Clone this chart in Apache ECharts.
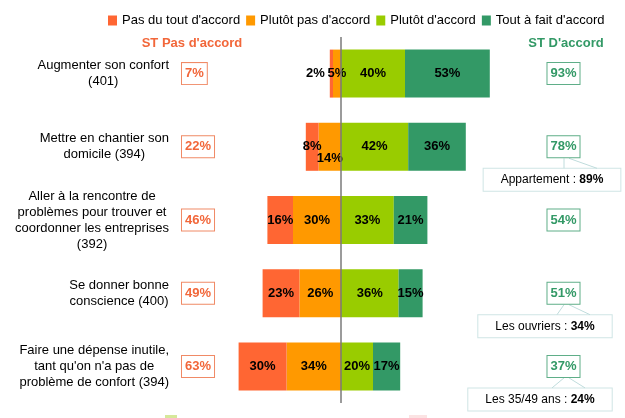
<!DOCTYPE html>
<html>
<head>
<meta charset="utf-8">
<script src="https://cdn.jsdelivr.net/npm/echarts@6/dist/echarts.min.js"></script>
<style>
html,body{margin:0;padding:0;background:#fff;}
#chart{width:625px;height:418px;}
</style>
</head>
<body>
<div id="chart"></div>
<script>
// ---- data ----
const categories = [
  "Augmenter son confort\n(401)",
  "Mettre en chantier son\ndomicile (394)",
  "Aller à la rencontre de\nproblèmes pour trouver et\ncoordonner les entreprises\n(392)",
  "Se donner bonne\nconscience (400)",
  "Faire une dépense inutile,\ntant qu'on n'a pas de\nproblème de confort (394)"
];
const legendNames = ["Pas du tout d'accord", "Plutôt pas d'accord", "Plutôt d'accord", "Tout à fait d'accord"];
const pasDuTout = [2, 8, 16, 23, 30];
const plutotPas = [5, 14, 30, 26, 34];
const plutotAccord = [40, 42, 33, 36, 20];
const toutAFait = [53, 36, 21, 15, 17];
const stPasAccord = [7, 22, 46, 49, 63];
const stAccord = [93, 78, 54, 51, 37];
const calloutLabels = ["", "Appartement : ", "", "Les ouvriers : ", "Les 35/49 ans : "];
const calloutValues = ["", "89%", "", "34%", "24%"];

// ---- style ----
const FONT = "'Liberation Sans', Arial, sans-serif";
const C_RED = '#FF6633', C_ORANGE = '#FF9900', C_LIME = '#99CC00', C_GREEN = '#339966';
const C_HEAD_RED = '#F2673A', C_BOX_RED = '#F08A66';
const C_BUBBLE = '#CFE5E5';

const chart = echarts.init(document.getElementById('chart'), null, {renderer: 'canvas'});

function makeSeries(name, values, sign, color, tweaks) {
  return {
    name: name,
    type: 'bar',
    stack: 'total',
    barWidth: 48,
    itemStyle: {color: color},
    label: {
      show: true,
      position: 'inside',
      formatter: p => Math.abs(p.value) + '%',
      color: '#000',
      fontWeight: 'bold',
      fontSize: 13,
      fontFamily: FONT,
      textBorderWidth: 0
    },
    data: values.map((v, i) => {
      const item = {value: sign * v};
      if (tweaks && tweaks[i]) item.label = {offset: tweaks[i]};
      return item;
    })
  };
}

const sPlutotPas = makeSeries(legendNames[1], plutotPas, -1, C_ORANGE, {1: [0, 12]});
sPlutotPas.markLine = {
  silent: true,
  symbol: ['none', 'none'],
  label: {show: false},
  lineStyle: {color: '#7a7a7a', width: 1.5, type: 'solid'},
  data: [{xAxis: 0}]
};

const option = {
  animation: false,
  textStyle: {fontFamily: FONT},
  legend: {
    data: legendNames,
    left: 103,
    top: 9,
    icon: 'rect',
    itemWidth: 9,
    itemHeight: 10,
    itemGap: 6,
    textStyle: {fontSize: 13, color: '#000', fontFamily: FONT}
  },
  grid: {left: 181, right: 124, top: 37, bottom: 15},
  xAxis: {
    type: 'value', min: -100, max: 100,
    axisLine: {show: false}, axisTick: {show: false},
    axisLabel: {show: false}, splitLine: {show: false}
  },
  yAxis: {
    type: 'category',
    inverse: true,
    data: categories,
    axisLine: {show: false},
    axisTick: {show: false},
    axisLabel: {
      interval: 0,
      margin: 12,
      align: 'right',
      formatter: v => v.split('\n').map(l => '{c|' + l + '}').join('\n'),
      rich: {c: {align: 'center', fontSize: 13, lineHeight: 16, color: '#000', fontFamily: FONT}}
    }
  },
  series: [
    sPlutotPas,
    makeSeries(legendNames[0], pasDuTout, -1, C_RED, {0: [-16, 0]}),
    makeSeries(legendNames[2], plutotAccord, 1, C_LIME),
    makeSeries(legendNames[3], toutAFait, 1, C_GREEN)
  ]
};
chart.setOption(option);

// ---- annotations positioned from the category axis ----
const graphics = [];
graphics.push({
  type: 'text', style: {text: "ST Pas d'accord", x: 192, y: 43, align: 'center', verticalAlign: 'middle',
    font: 'bold 13px ' + FONT, fill: C_HEAD_RED}
});
graphics.push({
  type: 'text', style: {text: "ST D'accord", x: 566, y: 43, align: 'center', verticalAlign: 'middle',
    font: 'bold 13px ' + FONT, fill: C_GREEN}
});
categories.forEach((c, i) => {
  const y = chart.convertToPixel({yAxisIndex: 0}, i);
  graphics.push({
    type: 'text', z: 10,
    style: {text: stPasAccord[i] + '%', x: 182, y: y, align: 'left', verticalAlign: 'middle',
      font: 'bold 13px ' + FONT, fill: C_HEAD_RED,
      backgroundColor: '#fff', borderColor: C_BOX_RED, borderWidth: 1, padding: [4, 3]}
  });
  graphics.push({
    type: 'text', z: 10,
    style: {text: stAccord[i] + '%', x: 563.5, y: y, align: 'center', verticalAlign: 'middle',
      font: 'bold 13px ' + FONT, fill: C_GREEN,
      backgroundColor: '#fff', borderColor: '#5FAE88', borderWidth: 1, padding: [4, 3]}
  });
  if (calloutLabels[i]) {
    const cx = [0, 552, 0, 545, 540][i];
    const cy = y + 33;
    graphics.push({
      type: 'polyline', z: 9,
      shape: {points: [[cx + 12, cy - 11.5], [564, y + 11.5]]},
      style: {stroke: '#BFDCDC', lineWidth: 1, fill: null}
    });
    graphics.push({
      type: 'polyline', z: 9,
      shape: {points: [[569, y + 11.5], [cx + 45, cy - 11.5]]},
      style: {stroke: '#BFDCDC', lineWidth: 1, fill: null}
    });
    graphics.push({
      type: 'text', z: 8,
      style: {
        text: '{n|' + calloutLabels[i] + '}{b|' + calloutValues[i] + '}',
        x: cx, y: cy, align: 'center', verticalAlign: 'middle',
        backgroundColor: '#fff', borderColor: C_BUBBLE, borderWidth: 1, padding: [5, 17],
        rich: {
          n: {fontSize: 12, fontFamily: FONT, fill: '#000', color: '#000'},
          b: {fontSize: 12, fontFamily: FONT, fontWeight: 'bold', fill: '#000', color: '#000'}
        }
      }
    });
  }
});
// cut-off remnants visible at the very bottom edge of the original picture
graphics.push({type: 'rect', shape: {x: 165, y: 415, width: 12, height: 3}, style: {fill: '#D6E89A'}, silent: true});
graphics.push({type: 'rect', shape: {x: 409, y: 415, width: 18, height: 3}, style: {fill: '#FBE3E3'}, silent: true});
chart.setOption({graphic: graphics});
</script>
</body>
</html>
